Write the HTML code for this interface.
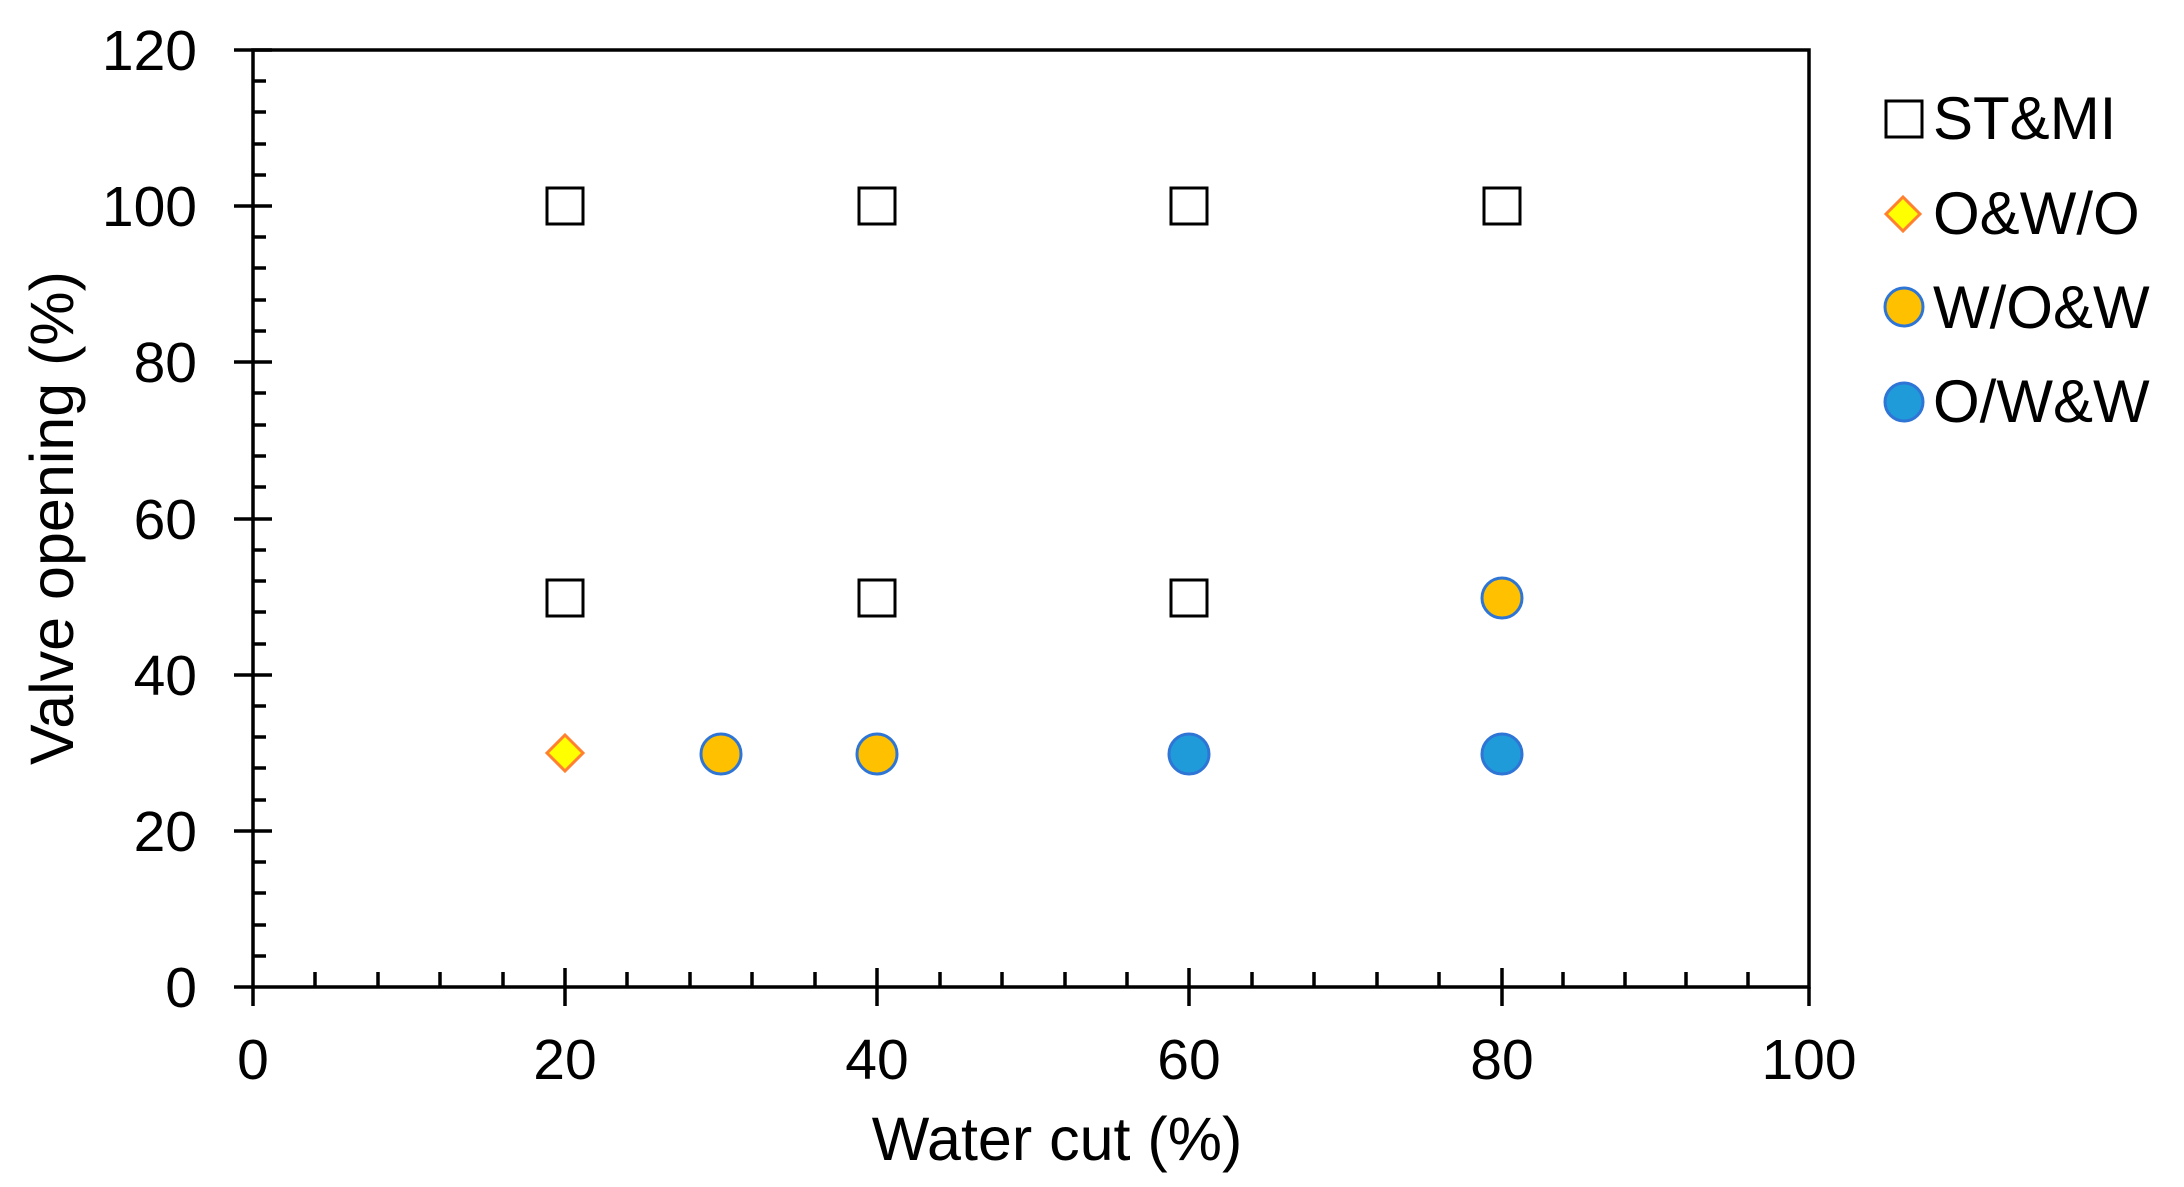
<!DOCTYPE html>
<html><head><meta charset="utf-8"><style>
html,body{margin:0;padding:0;background:#fff;}
svg{display:block;}
text{font-family:"Liberation Sans",Arial,sans-serif;fill:#000;}
</style></head><body>
<svg width="2184" height="1187" viewBox="0 0 2184 1187" xmlns="http://www.w3.org/2000/svg">
<g stroke="#000" stroke-width="3.5" fill="none">
<rect x="253" y="50" width="1556" height="937"/>
<!-- y ticks -->
<path d="
M234 50H272 M234 206H272 M234 362H272 M234 519H272 M234 675H272 M234 831H272 M234 987H253
M253 81H266 M253 112H266 M253 144H266 M253 175H266
M253 237H266 M253 268H266 M253 300H266 M253 331H266
M253 393H266 M253 425H266 M253 456H266 M253 487H266
M253 550H266 M253 581H266 M253 612H266 M253 644H266
M253 706H266 M253 737H266 M253 768H266 M253 800H266
M253 862H266 M253 893H266 M253 925H266 M253 956H266
"/>
<!-- x ticks -->
<path d="
M253 987V1006 M565 968V1006 M877 968V1006 M1189 968V1006 M1502 968V1006 M1809 987V1006
M315 987V972 M378 987V972 M440 987V972 M503 987V972
M627 987V972 M690 987V972 M752 987V972 M815 987V972
M940 987V972 M1002 987V972 M1065 987V972 M1127 987V972
M1252 987V972 M1314 987V972 M1377 987V972 M1439 987V972
M1563 987V972 M1625 987V972 M1686 987V972 M1748 987V972
"/>
</g>
<g font-size="57" text-anchor="end">
<text x="197" y="70">120</text>
<text x="197" y="226">100</text>
<text x="197" y="382">80</text>
<text x="197" y="539">60</text>
<text x="197" y="695">40</text>
<text x="197" y="851">20</text>
<text x="197" y="1007">0</text>
</g>
<g font-size="57" text-anchor="middle">
<text x="253" y="1079">0</text>
<text x="565" y="1079">20</text>
<text x="877" y="1079">40</text>
<text x="1189" y="1079">60</text>
<text x="1502" y="1079">80</text>
<text x="1809" y="1079">100</text>
</g>
<g font-size="61" text-anchor="middle">
<text x="1057" y="1160">Water cut (%)</text>
<text transform="translate(73,518) rotate(-90)">Valve opening (%)</text>
</g>
<!-- squares -->
<g fill="#fff" stroke="#000" stroke-width="3">
<rect x="547" y="188" width="36" height="36"/>
<rect x="859" y="188" width="36" height="36"/>
<rect x="1171" y="188" width="36" height="36"/>
<rect x="1484" y="188" width="36" height="36"/>
<rect x="547" y="580" width="36" height="36"/>
<rect x="859" y="580" width="36" height="36"/>
<rect x="1171" y="580" width="36" height="36"/>
<rect x="1886" y="101" width="36" height="36"/>
</g>
<!-- diamond -->
<path d="M565 735L583 753L565 771L547 753Z" fill="#FFFF00" stroke="#FF8030" stroke-width="3"/>
<path d="M1903 197L1920 214L1903 231L1886 214Z" fill="#FFFF00" stroke="#FF8030" stroke-width="3"/>
<!-- orange circles -->
<g fill="#FFC000" stroke="#2E75D6" stroke-width="3">
<circle cx="721" cy="754" r="20"/>
<circle cx="877" cy="754" r="20"/>
<circle cx="1502" cy="598" r="20"/>
<circle cx="1904" cy="307" r="19"/>
</g>
<!-- blue circles -->
<g fill="#1F9BDA" stroke="#2E75D6" stroke-width="3">
<circle cx="1189" cy="754" r="20"/>
<circle cx="1502" cy="754" r="20"/>
<circle cx="1904" cy="402" r="19"/>
</g>
<g font-size="60">
<text x="1933" y="139">ST&amp;MI</text>
<text x="1933" y="234">O&amp;W/O</text>
<text x="1933" y="328">W/O&amp;W</text>
<text x="1933" y="422">O/W&amp;W</text>
</g>
</svg>
</body></html>
